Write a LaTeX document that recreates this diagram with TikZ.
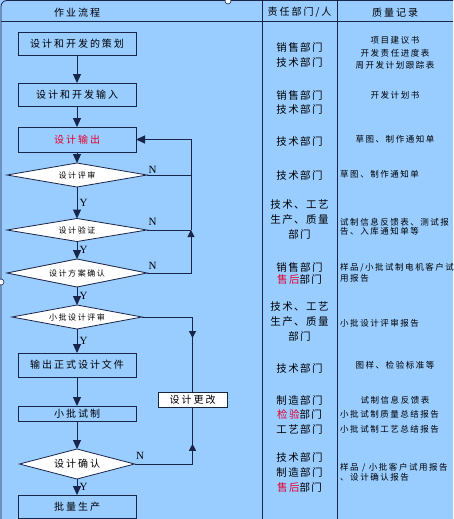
\documentclass[tikz,border=0pt]{standalone}
\usepackage{fontspec}
\setmainfont{Noto Sans CJK SC}
\newfontfamily\flowfont[LetterSpace=20]{Noto Sans CJK SC}
\newfontfamily\deptfont[LetterSpace=14]{Noto Sans CJK SC}
\newfontfamily\notefont[LetterSpace=18]{Noto Sans CJK SC}
\newfontfamily\ynfont{Liberation Serif}
\usetikzlibrary{
  shapes.geometric,     % Shape "diamond"
  arrows.meta,
  positioning,
  decorations.markings,
}
\definecolor{sheetblue}{RGB}{153,204,255}
\definecolor{inkblue}{RGB}{24,36,72}
\definecolor{markred}{RGB}{230,0,45}
\def\colflow{77}
\def\coldept{299.5}
\def\colnote{395}
\tikzset{
  >={Triangle[length=9pt,width=8pt]},
  grid line/.style={
    draw=inkblue,
    line width=0.8pt
  },
  flow text/.style={
    font=\flowfont\fontsize{10}{12}\selectfont
  },
  step box/.style={
    flow text,
    draw=inkblue,
    fill=sheetblue,
    line width=0.8pt,
    minimum width=118pt,
    minimum height=23pt,
    inner sep=0pt,
    outer sep=0pt,
    rectangle
  },
  decision/.style={
    diamond,
    aspect=6,
    draw=inkblue,
    fill=white,
    line width=0.8pt,
    font=\flowfont\fontsize{8}{10}\selectfont,
    minimum width=140pt,
    minimum height=24pt,
    inner sep=0pt,
    outer sep=0pt
  },
  link/.style={
    draw=inkblue,
    line width=1pt
  },
  yn/.style={
    font=\ynfont\fontsize{11}{12}\selectfont,
    inner sep=1pt
  },
  dept/.style={
    align=center,
    font=\deptfont\fontsize{10.5}{15}\selectfont,
    inner sep=0pt
  },
  note/.style={
    align=center,
    font=\notefont\fontsize{8.5}{12.5}\selectfont,
    inner sep=0pt
  },
  note left/.style={
    note,
    align=left,
    anchor=west
  },
  % Arrow head somewhere along the line
  mid arrow/.style={
    decoration={markings,mark=at position #1 with {\arrow{Triangle[length=7pt,width=7pt]}}},
    postaction={decorate}
  },
  handle/.style={
    draw=inkblue,
    fill=white,
    line width=0.6pt
  }
}

\begin{document}
\begin{tikzpicture}[x=1pt,y=-1pt]
\fill[sheetblue] (0,0) rectangle (453,519);
\useasboundingbox (0,0) rectangle (453,519);
% Sheet frame and columns
\draw[grid line,rounded corners=6pt] (1,519) -- (1,0.5) -- (453,0.5);
\draw[grid line] (1,21.5) -- (453,21.5);
\draw[grid line] (262.5,0) -- (262.5,519);
\draw[grid line] (337.5,0) -- (337.5,519);
\node[flow text] (h1) at (\colflow,12.5) {作业流程};
\node[flow text] (h2) at (\coldept,12.5) {责任部门/人};
\node[flow text] (h3) at (\colnote,12.5) {质量记录};

% Flow
\node[step box] (plan)     at (\colflow,43.5)  {设计和开发的策划};
\node[step box] (input)    at (\colflow,94.5)  {设计和开发输入};
\node[step box,minimum height=25pt] (output) at (\colflow,139.5) {\textcolor{markred}{设计输出}};
\node[decision] (review)   at (\colflow,175)   {设计评审};
\node[decision,minimum height=23pt] (verify) at (\colflow,230) {设计验证};
\node[decision,minimum height=28pt] (confirm) at (\colflow,273) {设计方案确认};
\node[decision,minimum width=130pt] (batchrev) at (\colflow,317) {小批设计评审};
\node[step box,minimum height=24pt] (release) at (\colflow,365) {输出正式设计文件};
\node[step box,minimum height=15pt] (trial) at (\colflow,413.5) {小批试制};
\node[decision,flow text,minimum width=115pt,minimum height=30pt] (validate) at (\colflow,464) {设计确认};
\node[step box] (mass)     at (\colflow,506.5) {批量生产};
\node[step box,fill=white,minimum width=69pt,minimum height=15pt] (change) at (192.5,399.5) {设计更改};
\coordinate (rail) at (191,0);

\draw[link,->] (plan) -- (input);
\draw[link,->] (input) -- (output);
\draw[link,->] (output) -- (review);
\draw[link,->] (review) -- node[yn,right=1pt] {Y} (verify);
\draw[link,->] (verify) -- node[yn,right=1pt] {Y} (confirm);
\draw[link,->] (confirm) -- node[yn,right=1pt] {Y} (batchrev);
\draw[link,->] (batchrev) -- node[yn,right=1pt] {Y} (release);
\draw[link,->] (release) -- (trial);
\draw[link,->] (trial) -- (validate);
\draw[link,->] (validate) -- node[yn,right=1pt] {Y} (mass);

% Back to design output
\draw[link] (review.east) -- node[yn,pos=0,anchor=south west] {N} (review.east -| rail);
\draw[link] (verify.east) -- node[yn,pos=0,anchor=south west,yshift=3pt] {N} (verify.east -| rail);
\draw[link,-{Triangle[length=7pt,width=7pt]}] (confirm.east)
    -- node[yn,pos=0,anchor=south west,yshift=2pt] {N} (confirm.east -| rail)
    -- (verify.east -| rail);
\draw[link,->] (verify.east -| rail) -- (output.east -| rail) -- (output.east);

% Via design change
\draw[link,mid arrow=0.57] (batchrev.east) -- (batchrev.east -| change) -- (change.north);
\draw[link,mid arrow=0.68] (validate.east)
    -- node[yn,pos=0,anchor=south west,yshift=3pt] {N} (validate.east -| change)
    -- (change.south);

% Departments
\node[dept] (d1)  at (\coldept,54.5)  {销售部门\\技术部门};
\node[dept] (d2)  at (\coldept,102)   {销售部门\\[-1pt]技术部门};
\node[dept] (d3)  at (\coldept,141)   {技术部门};
\node[dept] (d4)  at (\coldept,175)   {技术部门};
\node[dept] (d5)  at (\coldept,220)   {技术、工艺\\生产、质量\\部门};
\node[dept] (d6)  at (\coldept,273)   {销售部门\\[-3pt]\textcolor{markred}{售后}部门};
\node[dept] (d7)  at (\coldept,322)   {技术、工艺\\生产、质量\\部门};
\node[dept] (d8)  at (\coldept,368)   {技术部门};
\node[dept] (d9)  at (\coldept,414.5) {制造部门\\[-0.5pt]\textcolor{markred}{检验}部门\\[-0.5pt]工艺部门};
\node[dept] (d10) at (\coldept,472)   {技术部门\\制造部门\\\textcolor{markred}{售后}部门};

% Quality records
\node[note] (r1) at (\colnote,53)  {项目建议书\\开发责任进度表\\周开发计划跟踪表};
\node[note] (r2) at (\colnote,95)  {开发计划书};
\node[note] (r3) at (\colnote,139) {草图、制作通知单};
\node[note left] (r4) at (340,174)   {草图、制作通知单};
\node[note left] (r5) at (340,226.5) {试制信息反馈表、测试报\\[-3.5pt]告、入库通知单等};
\node[note left] (r6) at (340,272.5) {样品/小批试制电机客户试\\[-1.5pt]用报告};
\node[note left] (r7) at (340,323)   {小批设计评审报告};
\node[note] (r8) at (\colnote,365) {图样、检验标准等};
\node[note] (r9) at (\colnote,400) {试制信息反馈表};
\node[note left] (r10) at (340,414)  {小批试制质量总结报告};
\node[note left] (r11) at (340,429)  {小批试制工艺总结报告};
\node[note left] (r12) at (340,472)  {样品 / 小批客户试用报告\\[-2.5pt]、设计确认报告};

% Selection handles
\draw[handle] (228,1) circle (3pt);
\draw[handle] (1,282) circle (3pt);
\end{tikzpicture}
\end{document}
